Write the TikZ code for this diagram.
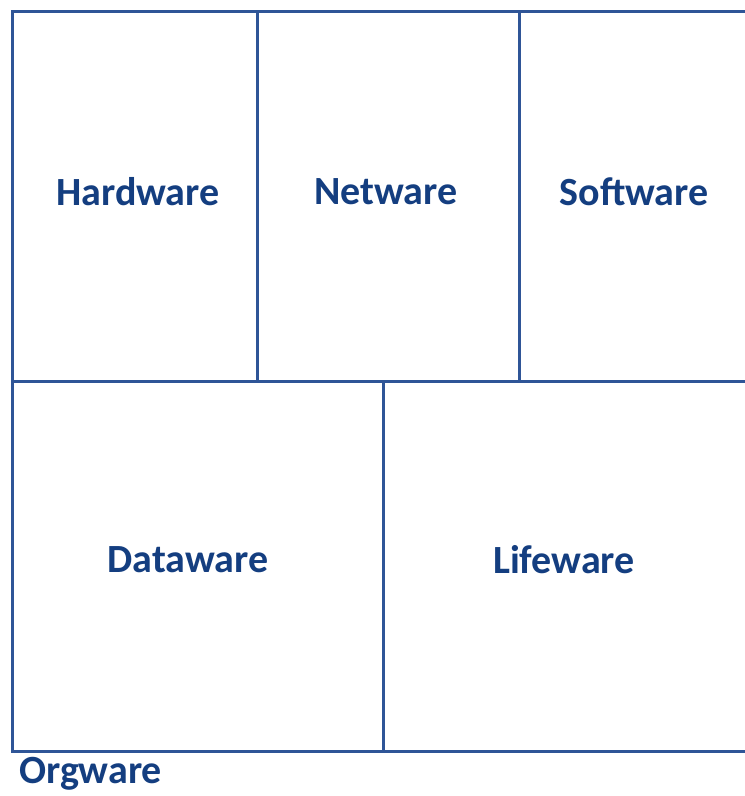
\documentclass[tikz,border=0pt]{standalone}
\usepackage{fontspec}
\setmainfont{Carlito}
\definecolor{linecol}{RGB}{47,85,151}
\definecolor{textcol}{RGB}{20,62,128}
\tikzset{
  gridline/.style={draw=linecol,line width=3pt},
  lbl/.style={text=textcol,font=\bfseries\fontsize{40}{46}\selectfont,inner sep=0pt}
}
\begin{document}
\begin{tikzpicture}[x=1pt,y=-1pt]
\useasboundingbox (0,0) rectangle (745,796);
\coordinate (tl) at (12,11.5);
\coordinate (tr) at (748,11.5);
\coordinate (ml) at (12,381.5);
\coordinate (mr) at (748,381.5);
\coordinate (bl) at (12,751.5);
\coordinate (br) at (748,751.5);
\coordinate (v1t) at (257.5,11.5);
\coordinate (v1b) at (257.5,381.5);
\coordinate (v2t) at (519.5,11.5);
\coordinate (v2b) at (519.5,381.5);
\coordinate (v3t) at (383.5,381.5);
\coordinate (v3b) at (383.5,751.5);
\draw[gridline] (tr) -- (tl) -- (bl) -- (br);
\draw[gridline] (ml) -- (mr);
\draw[gridline] (v1t) -- (v1b);
\draw[gridline] (v2t) -- (v2b);
\draw[gridline] (v3t) -- (v3b);
\node[lbl] (hw) at (138,192) {Hardware};
\node[lbl] (nw) at (386,192) {Netware};
\node[lbl] (sw) at (634,192) {Software};
\node[lbl] (dw) at (188,560) {Dataware};
\node[lbl] (lw) at (564,560) {Lifeware};
\node[lbl,anchor=west] (ow) at (19,774) {Orgware};
\end{tikzpicture}
\end{document}
